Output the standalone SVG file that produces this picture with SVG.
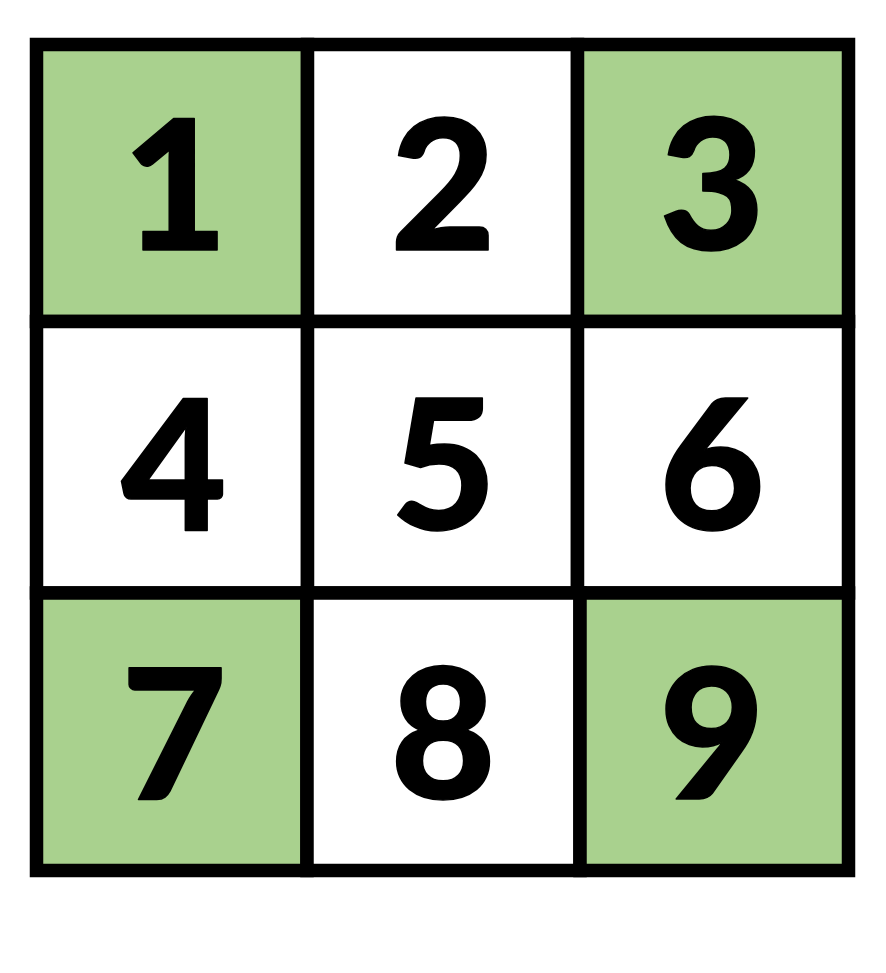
<svg xmlns="http://www.w3.org/2000/svg" width="886" height="973" viewBox="0 0 886 973">
<style>
.cell{stroke:#000;stroke-width:13.5}
.g{fill:#A9D18E}
.w{fill:#FFFFFF}
.n{font-family:Lato,"Open Sans","DejaVu Sans",sans-serif;font-weight:900;font-size:182px;fill:#000;stroke:#000;stroke-width:1.5;stroke-linejoin:round;text-anchor:middle}
</style>
<rect width="886" height="973" fill="#fff"/>
<g id="cell1"><rect class="cell g" x="36.5" y="44.5" width="271" height="277"/><text class="n" x="175" y="250">1</text></g>
<g id="cell2"><rect class="cell w" x="307.5" y="44.5" width="270" height="277"/><text class="n" x="443" y="250">2</text></g>
<g id="cell3"><rect class="cell g" x="577.5" y="44.5" width="271" height="277"/><text class="n" x="712" y="250">3</text></g>
<g id="cell4"><rect class="cell w" x="36.5" y="321.5" width="271" height="271.5"/><text class="n" x="174" y="530">4</text></g>
<g id="cell5"><rect class="cell w" x="307.5" y="321.5" width="270" height="271.5"/><text class="n" x="443.5" y="530">5</text></g>
<g id="cell6"><rect class="cell w" x="577.5" y="321.5" width="271" height="271.5"/><text class="n" x="712" y="530">6</text></g>
<g id="cell7"><rect class="cell g" x="36.5" y="593" width="270.5" height="277.5"/><text class="n" x="174" y="799">7</text></g>
<g id="cell8"><rect class="cell w" x="307" y="593" width="273" height="277.5"/><text class="n" x="443" y="799">8</text></g>
<g id="cell9"><rect class="cell g" x="580" y="593" width="268.5" height="277.5"/><text class="n" x="712" y="799">9</text></g>
</svg>
